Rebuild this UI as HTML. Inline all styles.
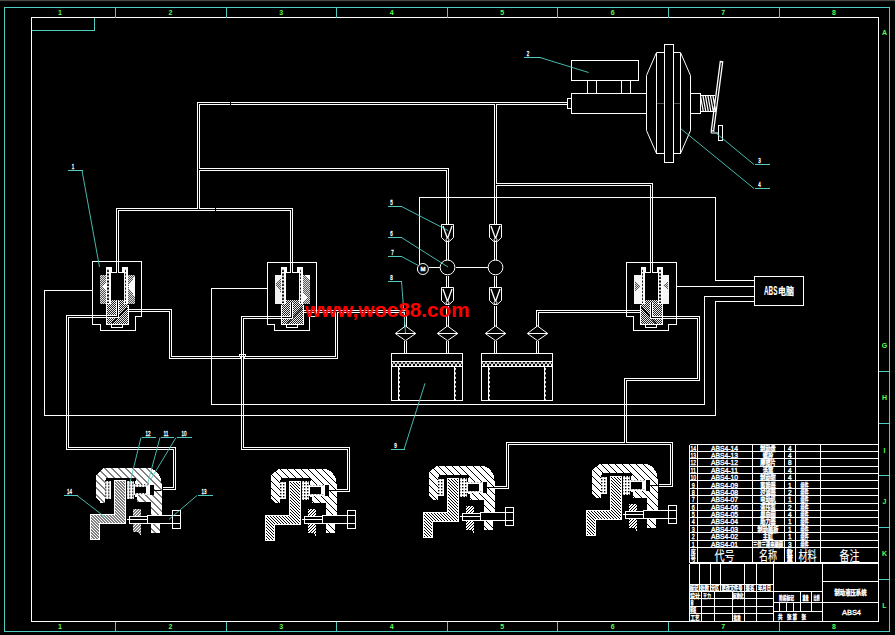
<!DOCTYPE html>
<html lang="zh"><head><meta charset="utf-8"><title>ABS4 制动液压系统</title>
<style>html,body{margin:0;padding:0;background:#000;overflow:hidden}svg{display:block}</style></head>
<body>
<svg width="895" height="635" viewBox="0 0 895 635" font-family="'Liberation Sans','Noto Sans CJK SC',sans-serif">
<defs>
<pattern id="xh" width="2" height="2" patternUnits="userSpaceOnUse"><rect width="2" height="2" fill="#555"/><rect width="1" height="1" fill="#ddd"/><rect x="1" y="1" width="1" height="1" fill="#ddd"/></pattern>
<pattern id="xh2" width="2" height="2" patternUnits="userSpaceOnUse"><rect width="2" height="2" fill="#222"/><rect width="1" height="1" fill="#eee"/><rect x="1" y="1" width="1" height="1" fill="#eee"/></pattern>
<pattern id="lad" width="1" height="3.5" patternUnits="userSpaceOnUse"><rect width="1" height="3.5" fill="#fff"/><rect y="0.5" width="1" height="2" fill="#000"/></pattern>
<pattern id="h1" width="7" height="7" patternUnits="userSpaceOnUse"><rect width="7" height="7" fill="#fff"/><path d="M-1 -1 L8 8 M-1 6 L1 8 M6 -1 L8 1" stroke="#000" stroke-width="1" shape-rendering="crispEdges"/></pattern>
<pattern id="h2" width="3" height="3" patternUnits="userSpaceOnUse"><rect width="3" height="3" fill="#fff"/><path d="M-1 -1 L4 4 M-1 2 L1 4 M2 -1 L4 1" stroke="#000" stroke-width="1" shape-rendering="crispEdges"/></pattern>
<pattern id="h3" width="3" height="3" patternUnits="userSpaceOnUse"><rect width="3" height="3" fill="#fff"/><path d="M-1 4 L4 -1 M-1 1 L1 -1 M2 4 L4 2" stroke="#000" stroke-width="1" shape-rendering="crispEdges"/></pattern>
<pattern id="pad" width="3" height="3" patternUnits="userSpaceOnUse"><rect width="3" height="3" fill="#fff"/><rect x="1" y="1" width="1.4" height="1.4" fill="#000"/></pattern>
<pattern id="acc" width="4" height="5" patternUnits="userSpaceOnUse"><rect width="4" height="5" fill="#000"/><path d="M0 0 L4 5 M4 0 L0 5" stroke="#fff" stroke-width="1"/></pattern>
<pattern id="dot" width="2" height="4.4" patternUnits="userSpaceOnUse" patternTransform="translate(0 367)"><rect width="2" height="2" y="1" fill="#fff"/></pattern>
</defs>
<rect width="895" height="635" fill="#000"/>
<rect width="895" height="1.2" fill="#4a4848"/>
<g shape-rendering="crispEdges"><rect x="99.6" y="274.5" width="6.9" height="29.5" fill="url(#xh)"/><polygon points="106.5,282 102.3,286.5 106.5,291" fill="#fff"/><rect x="127.5" y="274.5" width="7.1" height="29.5" fill="url(#xh)"/><polygon points="134.6,276.5 128,286.5 134.6,296.5" fill="#fff"/><rect x="106" y="303" width="22" height="21.5" fill="url(#xh2)"/><rect x="110.5" y="300" width="13" height="4" fill="url(#xh2)"/><rect x="106" y="267" width="4.5" height="36.5" fill="#fff"/><rect x="107.4" y="268.6" width="1.5" height="34.4" fill="url(#lad)"/><rect x="123.5" y="267" width="4.5" height="36.5" fill="#fff"/><rect x="124.9" y="268.6" width="1.5" height="34.4" fill="url(#lad)"/><rect x="110.2" y="267" width="1.6" height="5.8" fill="#fff"/><rect x="122.2" y="267" width="1.6" height="5.8" fill="#fff"/><rect x="110.5" y="271.8" width="5.5" height="1" fill="#fff"/><rect x="119" y="271.8" width="4.5" height="1" fill="#fff"/><line x1="127" y1="308" x2="112" y2="323.4" stroke="#000" stroke-width="1.3" shape-rendering="auto"/><rect x="274.6" y="274.5" width="6.9" height="29.5" fill="#f2f2f2"/><polygon points="281.5,277 275.6,284.5 281.5,293" fill="url(#xh)"/><rect x="302.5" y="274.5" width="7.1" height="29.5" fill="url(#xh)"/><polygon points="302.5,292.5 308.5,297.5 302.5,303" fill="#fff"/><polygon points="309.6,274.5 304.6,274.5 309.6,280.5" fill="#fff"/><rect x="281" y="303" width="22" height="21.5" fill="url(#xh2)"/><rect x="285.5" y="300" width="13" height="4" fill="url(#xh2)"/><rect x="281" y="267" width="4.5" height="36.5" fill="#fff"/><rect x="282.4" y="268.6" width="1.5" height="34.4" fill="url(#lad)"/><rect x="298.5" y="267" width="4.5" height="36.5" fill="#fff"/><rect x="299.9" y="268.6" width="1.5" height="34.4" fill="url(#lad)"/><rect x="285.2" y="267" width="1.6" height="5.8" fill="#fff"/><rect x="297.2" y="267" width="1.6" height="5.8" fill="#fff"/><rect x="285.5" y="271.8" width="4.5" height="1" fill="#fff"/><rect x="293" y="271.8" width="5.5" height="1" fill="#fff"/><line x1="302" y1="308" x2="287" y2="323.4" stroke="#000" stroke-width="1.3" shape-rendering="auto"/><rect x="634.1" y="274.5" width="6.9" height="29.5" fill="#f6f6f6"/><polygon points="635.1,280.5 640.5,285.7 635.1,291" fill="url(#xh)"/><rect x="662" y="274.5" width="7.1" height="29.5" fill="#f6f6f6"/><polygon points="668.1,282 662.5,285.3 668.1,289" fill="url(#xh)"/><rect x="640.5" y="303" width="22" height="21.5" fill="url(#xh2)"/><rect x="645" y="300" width="13" height="4" fill="url(#xh2)"/><rect x="640.5" y="267" width="4.5" height="36.5" fill="#fff"/><rect x="641.9" y="268.6" width="1.5" height="34.4" fill="url(#lad)"/><rect x="658" y="267" width="4.5" height="36.5" fill="#fff"/><rect x="659.4" y="268.6" width="1.5" height="34.4" fill="url(#lad)"/><rect x="644.7" y="267" width="1.6" height="5.8" fill="#fff"/><rect x="656.7" y="267" width="1.6" height="5.8" fill="#fff"/><rect x="645" y="271.8" width="5" height="1" fill="#fff"/><rect x="653" y="271.8" width="5" height="1" fill="#fff"/><line x1="641.0" y1="306.5" x2="656.3" y2="323.8" stroke="#000" stroke-width="1.3" shape-rendering="auto"/></g>
<g fill="none" shape-rendering="crispEdges">
<path d="M567.5 103.5 L198.5 103.5 L198.5 209.5 M495.5 103.5 L495.5 224.5 M495.5 184.5 L651.5 184.5 L651.5 272.5 M198.5 169.5 L447.5 169.5 L447.5 224.5 M117.5 272.5 L117.5 209.5 L291.5 209.5 L291.5 272.5 M447.5 241.5 L447.5 260.5 M447.5 275.5 L447.5 287.5 M447.5 305.5 L447.5 326.5 M447.5 340.5 L447.5 353.5 M495.5 241.5 L495.5 260.5 M495.5 275.5 L495.5 287.5 M495.5 305.5 L495.5 326.5 M495.5 340.5 L495.5 353.5 M128.5 310.5 L170.5 310.5 L170.5 357.5 L336.5 357.5 L336.5 311.5 M303.5 311.5 L405.5 311.5 L405.5 326.5 M405.5 340.5 L405.5 353.5 M117.5 300.5 L117.5 316.5 L67.5 316.5 L67.5 448.5 L174.5 448.5 L174.5 488.5 L162.5 488.5 M291.5 301.5 L291.5 317.5 L242.5 317.5 L242.5 448.5 L348.5 448.5 L348.5 490.5 L336.5 490.5 M640.5 311.5 L537.5 311.5 L537.5 326.5 M537.5 340.5 L537.5 353.5 M651.5 301.5 L651.5 317.5 L698.5 317.5 L698.5 379.5 L625.5 379.5 L625.5 443.5 M494.5 487.5 L507.5 487.5 L507.5 443.5 L671.5 443.5 L671.5 485.5 L658.5 485.5" stroke="#fff" stroke-width="3" stroke-linejoin="miter"/>
<path d="M567.5 103.5 L198.5 103.5 L198.5 209.5 M495.5 103.5 L495.5 224.5 M495.5 184.5 L651.5 184.5 L651.5 272.5 M198.5 169.5 L447.5 169.5 L447.5 224.5 M117.5 272.5 L117.5 209.5 L291.5 209.5 L291.5 272.5 M447.5 241.5 L447.5 260.5 M447.5 275.5 L447.5 287.5 M447.5 305.5 L447.5 326.5 M447.5 340.5 L447.5 353.5 M495.5 241.5 L495.5 260.5 M495.5 275.5 L495.5 287.5 M495.5 305.5 L495.5 326.5 M495.5 340.5 L495.5 353.5 M128.5 310.5 L170.5 310.5 L170.5 357.5 L336.5 357.5 L336.5 311.5 M303.5 311.5 L405.5 311.5 L405.5 326.5 M405.5 340.5 L405.5 353.5 M117.5 300.5 L117.5 316.5 L67.5 316.5 L67.5 448.5 L174.5 448.5 L174.5 488.5 L162.5 488.5 M291.5 301.5 L291.5 317.5 L242.5 317.5 L242.5 448.5 L348.5 448.5 L348.5 490.5 L336.5 490.5 M640.5 311.5 L537.5 311.5 L537.5 326.5 M537.5 340.5 L537.5 353.5 M651.5 301.5 L651.5 317.5 L698.5 317.5 L698.5 379.5 L625.5 379.5 L625.5 443.5 M494.5 487.5 L507.5 487.5 L507.5 443.5 L671.5 443.5 L671.5 485.5 L658.5 485.5" stroke="#000" stroke-width="1"/>
</g>
<g shape-rendering="crispEdges"><rect x="239" y="356" width="7" height="3" fill="#000"/><path d="M241.5 350V364M243.5 350V364" stroke="#fff" stroke-width="1" fill="none"/><path d="M236 356.5H239.5V354.5H245.5V356.5H249M236 358.5H240.5V356.5H244.5V358.5H249" stroke="#fff" stroke-width="1" fill="none"/><rect x="242" y="355" width="1" height="1" fill="#000"/><rect x="230" y="101" width="1" height="5" fill="#000"/><rect x="215" y="208" width="1" height="4" fill="#000"/></g>
<rect x="392" y="362" width="70" height="4" fill="url(#acc)" shape-rendering="crispEdges"/>
<rect x="398" y="367" width="1" height="33" fill="#fff" shape-rendering="crispEdges"/><rect x="397.5" y="367" width="2" height="33" fill="url(#dot)" shape-rendering="crispEdges"/>
<rect x="454" y="367" width="1" height="33" fill="#fff" shape-rendering="crispEdges"/><rect x="453.5" y="367" width="2" height="33" fill="url(#dot)" shape-rendering="crispEdges"/>
<rect x="482" y="362" width="70" height="4" fill="url(#acc)" shape-rendering="crispEdges"/>
<rect x="488" y="367" width="1" height="33" fill="#fff" shape-rendering="crispEdges"/><rect x="487.5" y="367" width="2" height="33" fill="url(#dot)" shape-rendering="crispEdges"/>
<rect x="544" y="367" width="1" height="33" fill="#fff" shape-rendering="crispEdges"/><rect x="543.5" y="367" width="2" height="33" fill="url(#dot)" shape-rendering="crispEdges"/>
<g transform="translate(-175 -0.5)" shape-rendering="crispEdges"><path d="M271 498 L275.5 503 L280 503 L280 480 L310 480 L310 497 L312 497 L312 502.5 L325.5 502.5 L325.5 515 L336.5 515 L336.5 483 Q335.5 472 325 468.5 L279 468.5 L271 475.5 Z" fill="url(#h1)"/><rect x="281" y="478" width="29.5" height="3" fill="#000"/><rect x="326.3" y="524" width="8.6" height="9" fill="url(#h1)"/><rect x="280" y="481.5" width="6" height="17.5" fill="url(#pad)"/><rect x="302" y="481" width="7" height="18.5" fill="url(#pad)"/><path d="M289 481 L300 481 L300 524 L274 524 L274 540 L265 540 L265 515 L289 515 Z" fill="url(#h2)" stroke="#fff" stroke-width="1"/><path d="M308.3 509 L315.8 509 L315.8 536 L313 532.6 L308.3 532.6 Z" fill="url(#h3)"/><rect x="309" y="484.8" width="16" height="11" fill="url(#pad)"/><rect x="309.5" y="487.2" width="11.5" height="6.4" fill="#000"/><rect x="321.5" y="486.2" width="3.5" height="8.2" fill="#fff"/><rect x="325.2" y="485.2" width="3.8" height="10.4" fill="#000"/><rect x="329" y="490" width="7" height="1" fill="#000"/><rect x="304.5" y="516.5" width="18" height="7" fill="#000" stroke="#fff" stroke-width="1"/><rect x="322.5" y="515.5" width="25" height="8" fill="#000" stroke="#fff" stroke-width="1"/><rect x="347.5" y="510.5" width="8" height="18" fill="#000" stroke="#fff" stroke-width="1"/><path d="M302 519.5 H322.5 M347.5 515.5 H355.5 M347.5 523.5 H355.5" stroke="#fff" stroke-width="1" fill="none"/></g>
<g transform="translate(0 0)" shape-rendering="crispEdges"><path d="M271 498 L275.5 503 L280 503 L280 480 L310 480 L310 497 L312 497 L312 502.5 L325.5 502.5 L325.5 515 L336.5 515 L336.5 483 Q335.5 472 325 468.5 L279 468.5 L271 475.5 Z" fill="url(#h1)"/><rect x="281" y="478" width="29.5" height="3" fill="#000"/><rect x="326.3" y="524" width="8.6" height="9" fill="url(#h1)"/><rect x="280" y="481.5" width="6" height="17.5" fill="url(#pad)"/><rect x="302" y="481" width="7" height="18.5" fill="url(#pad)"/><path d="M289 481 L300 481 L300 524 L274 524 L274 540 L265 540 L265 515 L289 515 Z" fill="url(#h2)" stroke="#fff" stroke-width="1"/><path d="M308.3 509 L315.8 509 L315.8 536 L313 532.6 L308.3 532.6 Z" fill="url(#h3)"/><rect x="309" y="484.8" width="16" height="11" fill="url(#pad)"/><rect x="309.5" y="487.2" width="11.5" height="6.4" fill="#000"/><rect x="321.5" y="486.2" width="3.5" height="8.2" fill="#fff"/><rect x="325.2" y="485.2" width="3.8" height="10.4" fill="#000"/><rect x="329" y="490" width="7" height="1" fill="#000"/><rect x="304.5" y="516.5" width="18" height="7" fill="#000" stroke="#fff" stroke-width="1"/><rect x="322.5" y="515.5" width="25" height="8" fill="#000" stroke="#fff" stroke-width="1"/><rect x="347.5" y="510.5" width="8" height="18" fill="#000" stroke="#fff" stroke-width="1"/><path d="M302 519.5 H322.5 M347.5 515.5 H355.5 M347.5 523.5 H355.5" stroke="#fff" stroke-width="1" fill="none"/></g>
<g transform="translate(158 -3)" shape-rendering="crispEdges"><path d="M271 498 L275.5 503 L280 503 L280 480 L310 480 L310 497 L312 497 L312 502.5 L325.5 502.5 L325.5 515 L336.5 515 L336.5 483 Q335.5 472 325 468.5 L279 468.5 L271 475.5 Z" fill="url(#h1)"/><rect x="281" y="478" width="29.5" height="3" fill="#000"/><rect x="326.3" y="524" width="8.6" height="9" fill="url(#h1)"/><rect x="280" y="481.5" width="6" height="17.5" fill="url(#pad)"/><rect x="302" y="481" width="7" height="18.5" fill="url(#pad)"/><path d="M289 481 L300 481 L300 524 L274 524 L274 540 L265 540 L265 515 L289 515 Z" fill="url(#h2)" stroke="#fff" stroke-width="1"/><path d="M308.3 509 L315.8 509 L315.8 536 L313 532.6 L308.3 532.6 Z" fill="url(#h3)"/><rect x="309" y="484.8" width="16" height="11" fill="url(#pad)"/><rect x="309.5" y="487.2" width="11.5" height="6.4" fill="#000"/><rect x="321.5" y="486.2" width="3.5" height="8.2" fill="#fff"/><rect x="325.2" y="485.2" width="3.8" height="10.4" fill="#000"/><rect x="329" y="490" width="7" height="1" fill="#000"/><rect x="304.5" y="516.5" width="18" height="7" fill="#000" stroke="#fff" stroke-width="1"/><rect x="322.5" y="515.5" width="25" height="8" fill="#000" stroke="#fff" stroke-width="1"/><rect x="347.5" y="510.5" width="8" height="18" fill="#000" stroke="#fff" stroke-width="1"/><path d="M302 519.5 H322.5 M347.5 515.5 H355.5 M347.5 523.5 H355.5" stroke="#fff" stroke-width="1" fill="none"/></g>
<g transform="translate(321 -5)" shape-rendering="crispEdges"><path d="M271 498 L275.5 503 L280 503 L280 480 L310 480 L310 497 L312 497 L312 502.5 L325.5 502.5 L325.5 515 L336.5 515 L336.5 483 Q335.5 472 325 468.5 L279 468.5 L271 475.5 Z" fill="url(#h1)"/><rect x="281" y="478" width="29.5" height="3" fill="#000"/><rect x="326.3" y="524" width="8.6" height="9" fill="url(#h1)"/><rect x="280" y="481.5" width="6" height="17.5" fill="url(#pad)"/><rect x="302" y="481" width="7" height="18.5" fill="url(#pad)"/><path d="M289 481 L300 481 L300 524 L274 524 L274 540 L265 540 L265 515 L289 515 Z" fill="url(#h2)" stroke="#fff" stroke-width="1"/><path d="M308.3 509 L315.8 509 L315.8 536 L313 532.6 L308.3 532.6 Z" fill="url(#h3)"/><rect x="309" y="484.8" width="16" height="11" fill="url(#pad)"/><rect x="309.5" y="487.2" width="11.5" height="6.4" fill="#000"/><rect x="321.5" y="486.2" width="3.5" height="8.2" fill="#fff"/><rect x="325.2" y="485.2" width="3.8" height="10.4" fill="#000"/><rect x="329" y="490" width="7" height="1" fill="#000"/><rect x="304.5" y="516.5" width="18" height="7" fill="#000" stroke="#fff" stroke-width="1"/><rect x="322.5" y="515.5" width="25" height="8" fill="#000" stroke="#fff" stroke-width="1"/><rect x="347.5" y="510.5" width="8" height="18" fill="#000" stroke="#fff" stroke-width="1"/><path d="M302 519.5 H322.5 M347.5 515.5 H355.5 M347.5 523.5 H355.5" stroke="#fff" stroke-width="1" fill="none"/></g>
<g fill="none" shape-rendering="crispEdges">
<path d="M31.5 17.5 L878.5 17.5 L878.5 621.5 L31.5 621.5 Z M92.5 290.5 L44.5 290.5 L44.5 415.5 L715.5 415.5 L715.5 301.5 L754.5 301.5 M267.5 288.5 L211.5 288.5 L211.5 404.5 L704.5 404.5 L704.5 296.5 L754.5 296.5 M676.5 286.5 L754.5 286.5 M419.5 264.5 L419.5 197.5 L715.5 197.5 L715.5 280.5 L754.5 280.5 M754.5 276.5 L803.5 276.5 L803.5 305.5 L754.5 305.5 Z M571.5 60.5 L638.5 60.5 L638.5 80.5 L571.5 80.5 Z M571.5 93.5 L646.5 93.5 L646.5 113.5 L571.5 113.5 Z M567.5 98.5 L571.5 98.5 L571.5 108.5 L567.5 108.5 Z M587.5 80.5 L596.5 80.5 L596.5 93.5 L587.5 93.5 Z M621.5 80.5 L630.5 80.5 L630.5 93.5 L621.5 93.5 Z M656.5 52.5 L656.5 153.5 M680.5 52.5 L680.5 153.5 M690.5 93.5 L700.5 93.5 L700.5 113.5 L690.5 113.5 Z M700.5 95.5 L714.5 95.5 M700.5 111.5 L715.5 111.5 M718.5 125.5 L722.5 125.5 L722.5 140.5 L718.5 140.5 Z M428.5 267.5 L440.5 267.5 M455.5 267.5 L488.5 267.5 M395.5 333.5 L415.5 333.5 M437.5 333.5 L457.5 333.5 M485.5 333.5 L505.5 333.5 M527.5 333.5 L547.5 333.5 M391.5 353.5 L462.5 353.5 L462.5 400.5 L391.5 400.5 Z M391.5 361.5 L462.5 361.5 M391.5 366.5 L462.5 366.5 M481.5 353.5 L552.5 353.5 L552.5 400.5 L481.5 400.5 Z M481.5 361.5 L552.5 361.5 M481.5 366.5 L552.5 366.5 M92.5 261.5 L141.5 261.5 L141.5 316.5 L135.5 316.5 L135.5 330.5 L100.5 330.5 L100.5 324.5 L92.5 324.5 Z M106.5 304.5 L106.5 324.5 L128.5 324.5 L128.5 304.5 M111.5 324.5 L111.5 327.5 L122.5 327.5 L122.5 324.5 M267.5 262.5 L316.5 262.5 L316.5 316.5 L309.5 316.5 L309.5 330.5 L274.5 330.5 L274.5 324.5 L267.5 324.5 Z M281.5 304.5 L281.5 324.5 L303.5 324.5 L303.5 304.5 M286.5 324.5 L286.5 327.5 L297.5 327.5 L297.5 324.5 M626.5 262.5 L676.5 262.5 L676.5 324.5 L668.5 324.5 L668.5 330.5 L633.5 330.5 L633.5 316.5 L626.5 316.5 Z M640.5 304.5 L640.5 324.5 L662.5 324.5 L662.5 304.5 M645.5 324.5 L645.5 327.5 L656.5 327.5 L656.5 324.5 M689.5 444.5 L878.5 444.5 M689.5 451.5 L878.5 451.5 M689.5 458.5 L878.5 458.5 M689.5 466.5 L878.5 466.5 M689.5 473.5 L878.5 473.5 M689.5 480.5 L878.5 480.5 M689.5 488.5 L878.5 488.5 M689.5 495.5 L878.5 495.5 M689.5 503.5 L878.5 503.5 M689.5 510.5 L878.5 510.5 M689.5 517.5 L878.5 517.5 M689.5 525.5 L878.5 525.5 M689.5 532.5 L878.5 532.5 M689.5 540.5 L878.5 540.5 M689.5 547.5 L878.5 547.5 M689.5 444.5 L689.5 562.5 M697.5 444.5 L697.5 562.5 M752.5 444.5 L752.5 562.5 M784.5 444.5 L784.5 562.5 M795.5 444.5 L795.5 562.5 M820.5 444.5 L820.5 562.5 M689.5 562.5 L878.5 562.5 M689.5 563.5 L878.5 563.5 M689.5 563.5 L689.5 621.5 M699.5 563.5 L699.5 591.5 M710.5 563.5 L710.5 591.5 M720.5 563.5 L720.5 591.5 M744.5 563.5 L744.5 591.5 M756.5 563.5 L756.5 591.5 M701.5 591.5 L701.5 621.5 M714.5 591.5 L714.5 621.5 M732.5 591.5 L732.5 621.5 M744.5 591.5 L744.5 621.5 M756.5 591.5 L756.5 621.5 M689.5 584.5 L773.5 584.5 M689.5 591.5 L773.5 591.5 M689.5 598.5 L773.5 598.5 M689.5 606.5 L773.5 606.5 M689.5 613.5 L773.5 613.5 M773.5 563.5 L773.5 621.5 M822.5 563.5 L822.5 621.5 M773.5 591.5 L822.5 591.5 M773.5 602.5 L822.5 602.5 M773.5 611.5 L822.5 611.5 M800.5 591.5 L800.5 611.5 M811.5 591.5 L811.5 611.5 M779.5 602.5 L779.5 611.5 M786.5 602.5 L786.5 611.5 M793.5 602.5 L793.5 611.5 M822.5 581.5 L878.5 581.5 M822.5 602.5 L878.5 602.5" stroke="#fff" stroke-width="1"/>
<path d="M4.5 7.5 L889.5 7.5 L889.5 631.5 L4.5 631.5 L4.5 7.5 L889.5 7.5 M31.5 30.5 L94.5 30.5 L94.5 17.5 M115.5 7.5 L115.5 17.5 M115.5 621.5 L115.5 631.5 M226.5 7.5 L226.5 17.5 M226.5 621.5 L226.5 631.5 M336.5 7.5 L336.5 17.5 M336.5 621.5 L336.5 631.5 M447.5 7.5 L447.5 17.5 M447.5 621.5 L447.5 631.5 M557.5 7.5 L557.5 17.5 M557.5 621.5 L557.5 631.5 M668.5 7.5 L668.5 17.5 M668.5 621.5 L668.5 631.5 M779.5 7.5 L779.5 17.5 M779.5 621.5 L779.5 631.5 M878.5 371.5 L889.5 371.5 M878.5 423.5 L889.5 423.5 M878.5 475.5 L889.5 475.5 M878.5 527.5 L889.5 527.5 M878.5 579.5 L889.5 579.5 M67.5 170.5 L82.5 170.5 M523.5 57.5 L540.5 57.5 M754.5 164.5 L769.5 164.5 M754.5 188.5 L769.5 188.5 M387.5 206.5 L401.5 206.5 M387.5 237.5 L401.5 237.5 M387.5 256.5 L401.5 256.5 M387.5 281.5 L401.5 281.5 M390.5 449.5 L404.5 449.5 M141.5 437.5 L155.5 437.5 M160.5 437.5 L173.5 437.5 M176.5 437.5 L191.5 437.5 M63.5 495.5 L77.5 495.5 M197.5 495.5 L212.5 495.5" stroke="#50ccc0" stroke-width="1"/>
</g>
<g fill="none">
<path d="M656.5 52.5 L680.5 52.5 L690.5 75.5 L690.5 130.5 L680.5 153.5 L656.5 153.5 L646.5 130.5 L646.5 75.5 Z M711.5 130.5 L711 133 L718 133 M441.5 224.5 L453.5 224.5 L453.5 237.5 L449.3 241.5 L445.7 241.5 L441.5 237.5 Z M441.5 287.5 L453.5 287.5 L453.5 300.5 L449.3 304.5 L445.7 304.5 L441.5 300.5 Z M489.5 224.5 L501.5 224.5 L501.5 237.5 L497.3 241.5 L493.7 241.5 L489.5 237.5 Z M489.5 287.5 L501.5 287.5 L501.5 300.5 L497.3 304.5 L493.7 304.5 L489.5 300.5 Z M395.3 333.5 L405.5 326 L415.7 333.5 L405.5 340.6 Z M437.3 333.5 L447.5 326 L457.7 333.5 L447.5 340.6 Z M485.3 333.5 L495.5 326 L505.7 333.5 L495.5 340.6 Z M527.3 333.5 L537.5 326 L547.7 333.5 L537.5 340.6 Z" stroke="#fff" stroke-width="1"/>
<path d="M700.5 96 L703.3 111.5 M703 96 L705.8 111.5 M705.5 96 L708.3 111.5 M708 96 L710.8 111.5 M710.5 96 L713.3 111.5 M713 96 L715.8 111.5 M720.3 61.5 L722.7 61.8 L713.6 131 L711.3 130.6 Z M443 226 L447.3 238 M452 226 L447.7 238 M443 289 L447.3 301 M452 289 L447.7 301 M491 226 L495.3 238 M500 226 L495.7 238 M491 289 L495.3 301 M500 289 L495.7 301" stroke="#fff" stroke-width="1.3"/>
<rect x="664.5" y="44.5" width="9" height="118" fill="#000" stroke="#fff" stroke-width="1" shape-rendering="crispEdges"/>
<path d="M657 103.5H664M674 103.5H680" stroke="#555" stroke-width="1" shape-rendering="crispEdges"/>
<circle cx="447.5" cy="267.4" r="7.4" stroke="#fff" stroke-width="1" fill="#000"/>
<circle cx="495.5" cy="267.4" r="7.4" stroke="#fff" stroke-width="1" fill="#000"/>
<circle cx="422.9" cy="269" r="5.5" stroke="#fff" stroke-width="1" fill="#000"/>
<circle cx="447.5" cy="239.8" r="1.5" stroke="#fff" stroke-width="1" fill="#000"/>
<circle cx="447.5" cy="302.8" r="1.5" stroke="#fff" stroke-width="1" fill="#000"/>
<circle cx="495.5" cy="239.8" r="1.5" stroke="#fff" stroke-width="1" fill="#000"/>
<circle cx="495.5" cy="302.8" r="1.5" stroke="#fff" stroke-width="1" fill="#000"/>
<path d="M82 170.5 L99.5 267 M540 57.5 L588.6 72.5 M754 164.5 L713.8 131.3 M754 188.5 L681 128.8 M401.5 206.5 L448 230.5 M401.5 237.5 L448 267 M401.5 256.5 L418 265.3 M401.5 281.5 L405.5 333 M404 449.5 L425 383.3 M141 437.5 L129 486.6 M160 437.5 L147 486 M176 437.5 L151 479 M77 495.5 L105.3 517.3 M197 495.5 L169 519.4" stroke="#50ccc0" stroke-width="0.9"/>
</g>
<text x="60" y="15" font-size="7" fill="#5f5" text-anchor="middle" font-weight="bold" >1</text>
<text x="60" y="629" font-size="7" fill="#5f5" text-anchor="middle" font-weight="bold" >1</text>
<text x="170.55" y="15" font-size="7" fill="#5f5" text-anchor="middle" font-weight="bold" >2</text>
<text x="170.55" y="629" font-size="7" fill="#5f5" text-anchor="middle" font-weight="bold" >2</text>
<text x="281.1" y="15" font-size="7" fill="#5f5" text-anchor="middle" font-weight="bold" >3</text>
<text x="281.1" y="629" font-size="7" fill="#5f5" text-anchor="middle" font-weight="bold" >3</text>
<text x="391.65" y="15" font-size="7" fill="#5f5" text-anchor="middle" font-weight="bold" >4</text>
<text x="391.65" y="629" font-size="7" fill="#5f5" text-anchor="middle" font-weight="bold" >4</text>
<text x="502.2" y="15" font-size="7" fill="#5f5" text-anchor="middle" font-weight="bold" >5</text>
<text x="502.2" y="629" font-size="7" fill="#5f5" text-anchor="middle" font-weight="bold" >5</text>
<text x="612.75" y="15" font-size="7" fill="#5f5" text-anchor="middle" font-weight="bold" >6</text>
<text x="612.75" y="629" font-size="7" fill="#5f5" text-anchor="middle" font-weight="bold" >6</text>
<text x="723.3" y="15" font-size="7" fill="#5f5" text-anchor="middle" font-weight="bold" >7</text>
<text x="723.3" y="629" font-size="7" fill="#5f5" text-anchor="middle" font-weight="bold" >7</text>
<text x="833.85" y="15" font-size="7" fill="#5f5" text-anchor="middle" font-weight="bold" >8</text>
<text x="833.85" y="629" font-size="7" fill="#5f5" text-anchor="middle" font-weight="bold" >8</text>
<text x="884.5" y="35" font-size="7" fill="#5f5" text-anchor="middle" font-weight="bold" >A</text>
<text x="884.5" y="347.5" font-size="7" fill="#5f5" text-anchor="middle" font-weight="bold" >G</text>
<text x="884.5" y="400" font-size="7" fill="#5f5" text-anchor="middle" font-weight="bold" >H</text>
<text x="884.5" y="452.5" font-size="7" fill="#5f5" text-anchor="middle" font-weight="bold" >I</text>
<text x="884.5" y="504" font-size="7" fill="#5f5" text-anchor="middle" font-weight="bold" >J</text>
<text x="884.5" y="556" font-size="7" fill="#5f5" text-anchor="middle" font-weight="bold" >K</text>
<text x="884.5" y="608" font-size="7" fill="#5f5" text-anchor="middle" font-weight="bold" >L</text>
<text x="73" y="169.4" font-size="7" fill="#fff" stroke="#fff" stroke-width="0.35" text-anchor="middle" font-weight="normal" textLength="2.5" lengthAdjust="spacingAndGlyphs">1</text>
<text x="528" y="56.4" font-size="7" fill="#fff" stroke="#fff" stroke-width="0.35" text-anchor="middle" font-weight="normal" textLength="2.5" lengthAdjust="spacingAndGlyphs">2</text>
<text x="759.5" y="163.4" font-size="7" fill="#fff" stroke="#fff" stroke-width="0.35" text-anchor="middle" font-weight="normal" textLength="2.5" lengthAdjust="spacingAndGlyphs">3</text>
<text x="759.5" y="187.4" font-size="7" fill="#fff" stroke="#fff" stroke-width="0.35" text-anchor="middle" font-weight="normal" textLength="2.5" lengthAdjust="spacingAndGlyphs">4</text>
<text x="391.5" y="205.4" font-size="7" fill="#fff" stroke="#fff" stroke-width="0.35" text-anchor="middle" font-weight="normal" textLength="2.5" lengthAdjust="spacingAndGlyphs">5</text>
<text x="391.5" y="236.4" font-size="7" fill="#fff" stroke="#fff" stroke-width="0.35" text-anchor="middle" font-weight="normal" textLength="2.5" lengthAdjust="spacingAndGlyphs">6</text>
<text x="392.5" y="255.4" font-size="7" fill="#fff" stroke="#fff" stroke-width="0.35" text-anchor="middle" font-weight="normal" textLength="2.5" lengthAdjust="spacingAndGlyphs">7</text>
<text x="391.5" y="280.4" font-size="7" fill="#fff" stroke="#fff" stroke-width="0.35" text-anchor="middle" font-weight="normal" textLength="2.5" lengthAdjust="spacingAndGlyphs">8</text>
<text x="395.5" y="448.4" font-size="7" fill="#fff" stroke="#fff" stroke-width="0.35" text-anchor="middle" font-weight="normal" textLength="2.5" lengthAdjust="spacingAndGlyphs">9</text>
<text x="148" y="436.4" font-size="7" fill="#fff" stroke="#fff" stroke-width="0.35" text-anchor="middle" font-weight="normal" textLength="5" lengthAdjust="spacingAndGlyphs">12</text>
<text x="166" y="436.4" font-size="7" fill="#fff" stroke="#fff" stroke-width="0.35" text-anchor="middle" font-weight="normal" textLength="5" lengthAdjust="spacingAndGlyphs">11</text>
<text x="184" y="436.4" font-size="7" fill="#fff" stroke="#fff" stroke-width="0.35" text-anchor="middle" font-weight="normal" textLength="5" lengthAdjust="spacingAndGlyphs">10</text>
<text x="69.5" y="494.4" font-size="7" fill="#fff" stroke="#fff" stroke-width="0.35" text-anchor="middle" font-weight="normal" textLength="5" lengthAdjust="spacingAndGlyphs">14</text>
<text x="204" y="494.4" font-size="7" fill="#fff" stroke="#fff" stroke-width="0.35" text-anchor="middle" font-weight="normal" textLength="5" lengthAdjust="spacingAndGlyphs">13</text>
<text x="764" y="295" font-size="13.5" fill="#fff" stroke="#fff" stroke-width="0.15" text-anchor="start" font-weight="bold" textLength="13.4" lengthAdjust="spacingAndGlyphs">ABS</text>
<text x="778" y="294.6" font-size="10.5" fill="#fff" stroke="#fff" stroke-width="0.15" text-anchor="start" font-weight="bold" textLength="16" lengthAdjust="spacingAndGlyphs">电脑</text>
<text x="422.9" y="271.3" font-size="6" fill="#fff" stroke="#fff" stroke-width="0.35" text-anchor="middle" font-weight="bold" >M</text>
<text x="693.2" y="450.6" font-size="6.5" fill="#fff" stroke="#fff" stroke-width="0.35" text-anchor="middle" font-weight="normal" textLength="5.5" lengthAdjust="spacingAndGlyphs">14</text>
<text x="724.5" y="450.6" font-size="7" fill="#fff" stroke="#fff" stroke-width="0.35" text-anchor="middle" font-weight="normal" textLength="27" lengthAdjust="spacingAndGlyphs">ABS4-14</text>
<text x="768" y="450.6" font-size="6.5" fill="#fff" stroke="#fff" stroke-width="0.35" text-anchor="middle" font-weight="bold" textLength="15.6" lengthAdjust="spacingAndGlyphs">制动盘</text>
<text x="789.7" y="450.6" font-size="6.5" fill="#fff" stroke="#fff" stroke-width="0.35" text-anchor="middle" font-weight="normal" >4</text>
<text x="693.2" y="457.985" font-size="6.5" fill="#fff" stroke="#fff" stroke-width="0.35" text-anchor="middle" font-weight="normal" textLength="5.5" lengthAdjust="spacingAndGlyphs">13</text>
<text x="724.5" y="457.985" font-size="7" fill="#fff" stroke="#fff" stroke-width="0.35" text-anchor="middle" font-weight="normal" textLength="27" lengthAdjust="spacingAndGlyphs">ABS4-13</text>
<text x="768" y="457.985" font-size="6.5" fill="#fff" stroke="#fff" stroke-width="0.35" text-anchor="middle" font-weight="bold" textLength="10.4" lengthAdjust="spacingAndGlyphs">螺栓</text>
<text x="789.7" y="457.985" font-size="6.5" fill="#fff" stroke="#fff" stroke-width="0.35" text-anchor="middle" font-weight="normal" >4</text>
<text x="693.2" y="465.37" font-size="6.5" fill="#fff" stroke="#fff" stroke-width="0.35" text-anchor="middle" font-weight="normal" textLength="5.5" lengthAdjust="spacingAndGlyphs">12</text>
<text x="724.5" y="465.37" font-size="7" fill="#fff" stroke="#fff" stroke-width="0.35" text-anchor="middle" font-weight="normal" textLength="27" lengthAdjust="spacingAndGlyphs">ABS4-12</text>
<text x="768" y="465.37" font-size="6.5" fill="#fff" stroke="#fff" stroke-width="0.35" text-anchor="middle" font-weight="bold" textLength="15.6" lengthAdjust="spacingAndGlyphs">摩擦片</text>
<text x="789.7" y="465.37" font-size="6.5" fill="#fff" stroke="#fff" stroke-width="0.35" text-anchor="middle" font-weight="normal" >8</text>
<text x="693.2" y="472.755" font-size="6.5" fill="#fff" stroke="#fff" stroke-width="0.35" text-anchor="middle" font-weight="normal" textLength="5.5" lengthAdjust="spacingAndGlyphs">11</text>
<text x="724.5" y="472.755" font-size="7" fill="#fff" stroke="#fff" stroke-width="0.35" text-anchor="middle" font-weight="normal" textLength="27" lengthAdjust="spacingAndGlyphs">ABS4-11</text>
<text x="768" y="472.755" font-size="6.5" fill="#fff" stroke="#fff" stroke-width="0.35" text-anchor="middle" font-weight="bold" textLength="10.4" lengthAdjust="spacingAndGlyphs">活塞</text>
<text x="789.7" y="472.755" font-size="6.5" fill="#fff" stroke="#fff" stroke-width="0.35" text-anchor="middle" font-weight="normal" >4</text>
<text x="693.2" y="480.14" font-size="6.5" fill="#fff" stroke="#fff" stroke-width="0.35" text-anchor="middle" font-weight="normal" textLength="5.5" lengthAdjust="spacingAndGlyphs">10</text>
<text x="724.5" y="480.14" font-size="7" fill="#fff" stroke="#fff" stroke-width="0.35" text-anchor="middle" font-weight="normal" textLength="27" lengthAdjust="spacingAndGlyphs">ABS4-10</text>
<text x="768" y="480.14" font-size="6.5" fill="#fff" stroke="#fff" stroke-width="0.35" text-anchor="middle" font-weight="bold" textLength="15.6" lengthAdjust="spacingAndGlyphs">制动钳</text>
<text x="789.7" y="480.14" font-size="6.5" fill="#fff" stroke="#fff" stroke-width="0.35" text-anchor="middle" font-weight="normal" >4</text>
<text x="693.2" y="487.525" font-size="6.5" fill="#fff" stroke="#fff" stroke-width="0.35" text-anchor="middle" font-weight="normal" textLength="3" lengthAdjust="spacingAndGlyphs">9</text>
<text x="724.5" y="487.525" font-size="7" fill="#fff" stroke="#fff" stroke-width="0.35" text-anchor="middle" font-weight="normal" textLength="27" lengthAdjust="spacingAndGlyphs">ABS4-09</text>
<text x="768" y="487.525" font-size="6.5" fill="#fff" stroke="#fff" stroke-width="0.35" text-anchor="middle" font-weight="bold" textLength="15.6" lengthAdjust="spacingAndGlyphs">蓄能器</text>
<text x="789.7" y="487.525" font-size="6.5" fill="#fff" stroke="#fff" stroke-width="0.35" text-anchor="middle" font-weight="normal" >1</text>
<text x="804.5" y="487.525" font-size="6.5" fill="#fff" stroke="#fff" stroke-width="0.35" text-anchor="middle" font-weight="bold" textLength="8" lengthAdjust="spacingAndGlyphs">组件</text>
<text x="693.2" y="494.91" font-size="6.5" fill="#fff" stroke="#fff" stroke-width="0.35" text-anchor="middle" font-weight="normal" textLength="3" lengthAdjust="spacingAndGlyphs">8</text>
<text x="724.5" y="494.91" font-size="7" fill="#fff" stroke="#fff" stroke-width="0.35" text-anchor="middle" font-weight="normal" textLength="27" lengthAdjust="spacingAndGlyphs">ABS4-08</text>
<text x="768" y="494.91" font-size="6.5" fill="#fff" stroke="#fff" stroke-width="0.35" text-anchor="middle" font-weight="bold" textLength="15.6" lengthAdjust="spacingAndGlyphs">过滤器</text>
<text x="789.7" y="494.91" font-size="6.5" fill="#fff" stroke="#fff" stroke-width="0.35" text-anchor="middle" font-weight="normal" >2</text>
<text x="804.5" y="494.91" font-size="6.5" fill="#fff" stroke="#fff" stroke-width="0.35" text-anchor="middle" font-weight="bold" textLength="8" lengthAdjust="spacingAndGlyphs">组件</text>
<text x="693.2" y="502.295" font-size="6.5" fill="#fff" stroke="#fff" stroke-width="0.35" text-anchor="middle" font-weight="normal" textLength="3" lengthAdjust="spacingAndGlyphs">7</text>
<text x="724.5" y="502.295" font-size="7" fill="#fff" stroke="#fff" stroke-width="0.35" text-anchor="middle" font-weight="normal" textLength="27" lengthAdjust="spacingAndGlyphs">ABS4-07</text>
<text x="768" y="502.295" font-size="6.5" fill="#fff" stroke="#fff" stroke-width="0.35" text-anchor="middle" font-weight="bold" textLength="15.6" lengthAdjust="spacingAndGlyphs">电动机</text>
<text x="789.7" y="502.295" font-size="6.5" fill="#fff" stroke="#fff" stroke-width="0.35" text-anchor="middle" font-weight="normal" >1</text>
<text x="804.5" y="502.295" font-size="6.5" fill="#fff" stroke="#fff" stroke-width="0.35" text-anchor="middle" font-weight="bold" textLength="8" lengthAdjust="spacingAndGlyphs">组件</text>
<text x="693.2" y="509.68" font-size="6.5" fill="#fff" stroke="#fff" stroke-width="0.35" text-anchor="middle" font-weight="normal" textLength="3" lengthAdjust="spacingAndGlyphs">6</text>
<text x="724.5" y="509.68" font-size="7" fill="#fff" stroke="#fff" stroke-width="0.35" text-anchor="middle" font-weight="normal" textLength="27" lengthAdjust="spacingAndGlyphs">ABS4-06</text>
<text x="768" y="509.68" font-size="6.5" fill="#fff" stroke="#fff" stroke-width="0.35" text-anchor="middle" font-weight="bold" textLength="15.6" lengthAdjust="spacingAndGlyphs">液压泵</text>
<text x="789.7" y="509.68" font-size="6.5" fill="#fff" stroke="#fff" stroke-width="0.35" text-anchor="middle" font-weight="normal" >2</text>
<text x="804.5" y="509.68" font-size="6.5" fill="#fff" stroke="#fff" stroke-width="0.35" text-anchor="middle" font-weight="bold" textLength="8" lengthAdjust="spacingAndGlyphs">组件</text>
<text x="693.2" y="517.065" font-size="6.5" fill="#fff" stroke="#fff" stroke-width="0.35" text-anchor="middle" font-weight="normal" textLength="3" lengthAdjust="spacingAndGlyphs">5</text>
<text x="724.5" y="517.065" font-size="7" fill="#fff" stroke="#fff" stroke-width="0.35" text-anchor="middle" font-weight="normal" textLength="27" lengthAdjust="spacingAndGlyphs">ABS4-05</text>
<text x="768" y="517.065" font-size="6.5" fill="#fff" stroke="#fff" stroke-width="0.35" text-anchor="middle" font-weight="bold" textLength="15.6" lengthAdjust="spacingAndGlyphs">单向阀</text>
<text x="789.7" y="517.065" font-size="6.5" fill="#fff" stroke="#fff" stroke-width="0.35" text-anchor="middle" font-weight="normal" >4</text>
<text x="804.5" y="517.065" font-size="6.5" fill="#fff" stroke="#fff" stroke-width="0.35" text-anchor="middle" font-weight="bold" textLength="8" lengthAdjust="spacingAndGlyphs">组件</text>
<text x="693.2" y="524.45" font-size="6.5" fill="#fff" stroke="#fff" stroke-width="0.35" text-anchor="middle" font-weight="normal" textLength="3" lengthAdjust="spacingAndGlyphs">4</text>
<text x="724.5" y="524.45" font-size="7" fill="#fff" stroke="#fff" stroke-width="0.35" text-anchor="middle" font-weight="normal" textLength="27" lengthAdjust="spacingAndGlyphs">ABS4-04</text>
<text x="768" y="524.45" font-size="6.5" fill="#fff" stroke="#fff" stroke-width="0.35" text-anchor="middle" font-weight="bold" textLength="15.6" lengthAdjust="spacingAndGlyphs">助力器</text>
<text x="789.7" y="524.45" font-size="6.5" fill="#fff" stroke="#fff" stroke-width="0.35" text-anchor="middle" font-weight="normal" >1</text>
<text x="804.5" y="524.45" font-size="6.5" fill="#fff" stroke="#fff" stroke-width="0.35" text-anchor="middle" font-weight="bold" textLength="8" lengthAdjust="spacingAndGlyphs">组件</text>
<text x="693.2" y="531.835" font-size="6.5" fill="#fff" stroke="#fff" stroke-width="0.35" text-anchor="middle" font-weight="normal" textLength="3" lengthAdjust="spacingAndGlyphs">3</text>
<text x="724.5" y="531.835" font-size="7" fill="#fff" stroke="#fff" stroke-width="0.35" text-anchor="middle" font-weight="normal" textLength="27" lengthAdjust="spacingAndGlyphs">ABS4-03</text>
<text x="768" y="531.835" font-size="6.5" fill="#fff" stroke="#fff" stroke-width="0.35" text-anchor="middle" font-weight="bold" textLength="20.8" lengthAdjust="spacingAndGlyphs">制动踏板</text>
<text x="789.7" y="531.835" font-size="6.5" fill="#fff" stroke="#fff" stroke-width="0.35" text-anchor="middle" font-weight="normal" >1</text>
<text x="804.5" y="531.835" font-size="6.5" fill="#fff" stroke="#fff" stroke-width="0.35" text-anchor="middle" font-weight="bold" textLength="8" lengthAdjust="spacingAndGlyphs">组件</text>
<text x="693.2" y="539.22" font-size="6.5" fill="#fff" stroke="#fff" stroke-width="0.35" text-anchor="middle" font-weight="normal" textLength="3" lengthAdjust="spacingAndGlyphs">2</text>
<text x="724.5" y="539.22" font-size="7" fill="#fff" stroke="#fff" stroke-width="0.35" text-anchor="middle" font-weight="normal" textLength="27" lengthAdjust="spacingAndGlyphs">ABS4-02</text>
<text x="768" y="539.22" font-size="6.5" fill="#fff" stroke="#fff" stroke-width="0.35" text-anchor="middle" font-weight="bold" textLength="10.4" lengthAdjust="spacingAndGlyphs">主缸</text>
<text x="789.7" y="539.22" font-size="6.5" fill="#fff" stroke="#fff" stroke-width="0.35" text-anchor="middle" font-weight="normal" >1</text>
<text x="804.5" y="539.22" font-size="6.5" fill="#fff" stroke="#fff" stroke-width="0.35" text-anchor="middle" font-weight="bold" textLength="8" lengthAdjust="spacingAndGlyphs">组件</text>
<text x="693.2" y="546.605" font-size="6.5" fill="#fff" stroke="#fff" stroke-width="0.35" text-anchor="middle" font-weight="normal" textLength="3" lengthAdjust="spacingAndGlyphs">1</text>
<text x="724.5" y="546.605" font-size="7" fill="#fff" stroke="#fff" stroke-width="0.35" text-anchor="middle" font-weight="normal" textLength="27" lengthAdjust="spacingAndGlyphs">ABS4-01</text>
<text x="768" y="546.605" font-size="6.5" fill="#fff" stroke="#fff" stroke-width="0.35" text-anchor="middle" font-weight="bold" textLength="30" lengthAdjust="spacingAndGlyphs">三位三通电磁阀</text>
<text x="789.7" y="546.605" font-size="6.5" fill="#fff" stroke="#fff" stroke-width="0.35" text-anchor="middle" font-weight="normal" >3</text>
<text x="804.5" y="546.605" font-size="6.5" fill="#fff" stroke="#fff" stroke-width="0.35" text-anchor="middle" font-weight="bold" textLength="8" lengthAdjust="spacingAndGlyphs">组件</text>
<text x="693.2" y="554.5" font-size="6.5" fill="#fff" stroke="#fff" stroke-width="0.35" text-anchor="middle" font-weight="normal" textLength="5" lengthAdjust="spacingAndGlyphs">序</text>
<text x="693.2" y="561" font-size="6.5" fill="#fff" stroke="#fff" stroke-width="0.35" text-anchor="middle" font-weight="normal" textLength="5" lengthAdjust="spacingAndGlyphs">号</text>
<text x="724.5" y="560.3" font-size="13" fill="#fff" stroke="#fff" stroke-width="0.15" text-anchor="middle" font-weight="normal" textLength="20" lengthAdjust="spacingAndGlyphs">代号</text>
<text x="768" y="560.3" font-size="13" fill="#fff" stroke="#fff" stroke-width="0.15" text-anchor="middle" font-weight="normal" textLength="18" lengthAdjust="spacingAndGlyphs">名称</text>
<text x="789.7" y="554.5" font-size="6.5" fill="#fff" stroke="#fff" stroke-width="0.35" text-anchor="middle" font-weight="bold" textLength="6" lengthAdjust="spacingAndGlyphs">数</text>
<text x="789.7" y="561" font-size="6.5" fill="#fff" stroke="#fff" stroke-width="0.35" text-anchor="middle" font-weight="bold" textLength="6" lengthAdjust="spacingAndGlyphs">量</text>
<text x="807.5" y="560.3" font-size="13" fill="#fff" stroke="#fff" stroke-width="0.15" text-anchor="middle" font-weight="normal" textLength="18" lengthAdjust="spacingAndGlyphs">材料</text>
<text x="849.5" y="560.3" font-size="13" fill="#fff" stroke="#fff" stroke-width="0.15" text-anchor="middle" font-weight="normal" textLength="20" lengthAdjust="spacingAndGlyphs">备注</text>
<text x="694" y="590.3" font-size="6" fill="#fff" stroke="#fff" stroke-width="0.35" text-anchor="middle" font-weight="bold" textLength="9" lengthAdjust="spacingAndGlyphs">标记</text>
<text x="704.5" y="590.3" font-size="6" fill="#fff" stroke="#fff" stroke-width="0.35" text-anchor="middle" font-weight="bold" textLength="9" lengthAdjust="spacingAndGlyphs">处数</text>
<text x="715" y="590.3" font-size="6" fill="#fff" stroke="#fff" stroke-width="0.35" text-anchor="middle" font-weight="bold" textLength="8" lengthAdjust="spacingAndGlyphs">分区</text>
<text x="732" y="590.3" font-size="6" fill="#fff" stroke="#fff" stroke-width="0.35" text-anchor="middle" font-weight="bold" textLength="21" lengthAdjust="spacingAndGlyphs">更改文件号</text>
<text x="750" y="590.3" font-size="6" fill="#fff" stroke="#fff" stroke-width="0.35" text-anchor="middle" font-weight="bold" textLength="9" lengthAdjust="spacingAndGlyphs">签名</text>
<text x="764.5" y="590.3" font-size="6" fill="#fff" stroke="#fff" stroke-width="0.35" text-anchor="middle" font-weight="bold" textLength="13" lengthAdjust="spacingAndGlyphs">年月日</text>
<text x="695" y="597.6" font-size="6" fill="#fff" stroke="#fff" stroke-width="0.35" text-anchor="middle" font-weight="bold" textLength="10" lengthAdjust="spacingAndGlyphs">设计</text>
<text x="707" y="597.6" font-size="6" fill="#fff" stroke="#fff" stroke-width="0.35" text-anchor="middle" font-weight="normal" textLength="8" lengthAdjust="spacingAndGlyphs">王力</text>
<text x="738" y="597.6" font-size="6" fill="#fff" stroke="#fff" stroke-width="0.35" text-anchor="middle" font-weight="bold" textLength="11" lengthAdjust="spacingAndGlyphs">标准化</text>
<text x="692" y="605" font-size="6" fill="#fff" stroke="#fff" stroke-width="0.35" text-anchor="middle" font-weight="normal" textLength="3" lengthAdjust="spacingAndGlyphs">审</text>
<text x="693" y="612.4" font-size="6" fill="#fff" stroke="#fff" stroke-width="0.35" text-anchor="middle" font-weight="bold" textLength="6" lengthAdjust="spacingAndGlyphs">审核</text>
<text x="695" y="620" font-size="6" fill="#fff" stroke="#fff" stroke-width="0.35" text-anchor="middle" font-weight="bold" textLength="9" lengthAdjust="spacingAndGlyphs">工艺</text>
<text x="737" y="620" font-size="6" fill="#fff" stroke="#fff" stroke-width="0.35" text-anchor="middle" font-weight="bold" textLength="7" lengthAdjust="spacingAndGlyphs">批准</text>
<text x="786.5" y="600" font-size="6" fill="#fff" stroke="#fff" stroke-width="0.35" text-anchor="middle" font-weight="bold" textLength="15" lengthAdjust="spacingAndGlyphs">阶段标记</text>
<text x="805.5" y="600" font-size="6" fill="#fff" stroke="#fff" stroke-width="0.35" text-anchor="middle" font-weight="bold" textLength="6" lengthAdjust="spacingAndGlyphs">重量</text>
<text x="816.5" y="600" font-size="6" fill="#fff" stroke="#fff" stroke-width="0.35" text-anchor="middle" font-weight="bold" textLength="6" lengthAdjust="spacingAndGlyphs">比例</text>
<text x="792" y="619" font-size="6" fill="#fff" stroke="#fff" stroke-width="0.35" text-anchor="middle" font-weight="bold" textLength="28" lengthAdjust="spacingAndGlyphs">共　张 第　张</text>
<text x="850.5" y="595.2" font-size="7" fill="#fff" stroke="#fff" stroke-width="0.35" text-anchor="middle" font-weight="bold" textLength="32" lengthAdjust="spacingAndGlyphs">制动液压系统</text>
<text x="851.5" y="614.6" font-size="8" fill="#fff" stroke="#fff" stroke-width="0.35" text-anchor="middle" font-weight="normal" textLength="19" lengthAdjust="spacingAndGlyphs">ABS4</text>
<text x="305" y="317" font-size="20.5" font-weight="bold" fill="#f00" textLength="164.5" lengthAdjust="spacingAndGlyphs">www,woc88.com</text>
</svg>
</body></html>
